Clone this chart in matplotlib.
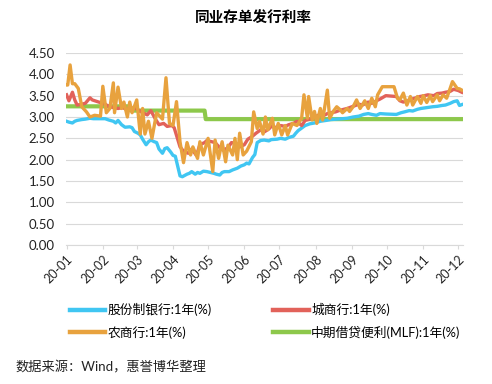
import matplotlib
matplotlib.use("Agg")
import matplotlib.pyplot as plt
import matplotlib.dates as mdates
import pandas as pd
from matplotlib.lines import Line2D

plt.rcParams['font.family'] = ['Lato', 'Noto Sans CJK SC', 'DejaVu Sans']

title = "同业存单发行利率"
source = "数据来源：Wind，惠誉博华整理"
labels = ["股份制银行:1年(%)", "城商行:1年(%)", "农商行:1年(%)", "中期借贷便利(MLF):1年(%)"]
month_ticks = ["20-01", "20-02", "20-03", "20-04", "20-05", "20-06",
               "20-07", "20-08", "20-09", "20-10", "20-11", "20-12"]
yticks = [0, 0.5, 1.0, 1.5, 2.0, 2.5, 3.0, 3.5, 4.0, 4.5]

blue_dates = ["01-01","01-03","01-06","01-08","01-10","01-14","01-17","01-21","01-24","02-03","02-06",
              "02-10","02-12","02-14","02-17","02-20","02-24","02-26","02-28","03-02","03-04","03-06",
              "03-09","03-11","03-13","03-16","03-18","03-20","03-23","03-25","03-27","03-30","04-01",
              "04-03","04-07","04-09","04-13","04-15","04-17","04-20","04-22","04-24","04-27","04-30",
              "05-06","05-08","05-11","05-13","05-15","05-19","05-22","05-26","05-29","06-01","06-03",
              "06-05","06-08","06-10","06-12","06-15","06-18","06-22","06-24","06-29","07-02","07-06",
              "07-09","07-13","07-15","07-17","07-20","07-23","07-27","07-31","08-05","08-10","08-14",
              "08-19","08-24","08-28","09-02","09-07","09-11","09-15","09-18","09-22","09-25","09-30",
              "10-09","10-13","10-16","10-20","10-23","10-27","10-30","11-04","11-09","11-13","11-17",
              "11-20","11-24","11-27","11-30","12-02","12-04"]
blue_vals = [2.90,2.88,2.86,2.90,2.92,2.94,2.95,2.97,2.96,2.96,2.93,
             2.90,2.86,2.92,2.82,2.76,2.77,2.75,2.66,2.62,2.58,2.48,
             2.35,2.42,2.46,2.42,2.40,2.25,2.15,2.26,2.28,2.18,2.10,
             2.08,1.62,1.60,1.66,1.68,1.72,1.66,1.70,1.68,1.73,1.72,
             1.68,1.66,1.64,1.70,1.72,1.72,1.76,1.80,1.85,1.88,1.92,
             1.90,2.05,2.12,2.40,2.45,2.46,2.44,2.47,2.48,2.50,2.48,
             2.52,2.55,2.62,2.68,2.74,2.80,2.84,2.86,2.90,2.92,2.94,
             2.95,2.96,2.97,3.00,3.02,3.06,3.08,3.06,3.04,3.08,3.07,
             3.06,3.10,3.12,3.15,3.14,3.18,3.20,3.22,3.24,3.25,3.27,
             3.28,3.32,3.36,3.38,3.27,3.29]

red_dates = ["01-01","01-03","01-06","01-08","01-10","01-14","01-17","01-21","01-23","02-03","02-06",
             "02-10","02-14","02-18","02-21","02-25","02-28","03-03","03-06","03-10","03-13","03-17",
             "03-20","03-24","03-27","03-31","04-02","04-07","04-10","04-14","04-17","04-21","04-24",
             "04-28","04-30","05-07","05-11","05-14","05-18","05-21","05-25","05-28","06-01","06-04",
             "06-08","06-11","06-15","06-18","06-22","06-24","06-29","07-02","07-06","07-09","07-13",
             "07-16","07-20","07-23","07-27","07-31","08-04","08-07","08-11","08-14","08-18","08-21",
             "08-25","08-28","09-02","09-07","09-10","09-15","09-18","09-22","09-25","09-30","10-09",
             "10-12","10-15","10-19","10-22","10-26","10-29","11-02","11-05","11-10","11-13","11-17",
             "11-20","11-24","11-27","12-01","12-04"]
red_vals = [3.52,3.38,3.58,3.40,3.28,3.30,3.32,3.45,3.40,3.30,3.25,
            3.22,3.20,3.22,3.18,3.20,3.22,3.15,3.10,3.05,3.15,2.95,
            2.82,2.85,2.78,2.80,2.75,2.30,2.20,2.15,2.25,2.10,2.35,
            2.40,2.45,2.40,2.28,2.22,2.28,2.40,2.38,2.30,2.35,2.48,
            2.55,2.62,2.70,2.65,2.72,2.78,2.75,2.80,2.78,2.82,2.85,
            2.90,2.80,2.92,2.95,3.00,3.05,3.02,3.08,3.10,3.12,3.15,
            3.18,3.20,3.25,3.30,3.28,3.35,3.32,3.38,3.42,3.50,3.48,
            3.38,3.35,3.38,3.42,3.45,3.48,3.50,3.52,3.50,3.55,3.56,
            3.58,3.60,3.65,3.62,3.58]

orange_dates = ["01-01","01-02","01-04","01-06","01-08","01-11","01-14","01-18","01-21","01-25","01-30",
                "02-01","02-04","02-07","02-10","02-11","02-14","02-17","02-19","02-22","02-24","02-26",
                "03-01","03-04","03-06","03-08","03-11","03-14","03-18","03-23","03-26","03-29","04-01",
                "04-04","04-07","04-10","04-13","04-16","04-18","04-22","04-24","04-27","05-01","05-05",
                "05-07","05-10","05-13","05-16","05-18","05-22","05-24","05-26","05-28","05-31","06-03",
                "06-07","06-09","06-12","06-14","06-17","06-19","06-21","06-25","06-27","06-30","07-03",
                "07-06","07-08","07-12","07-16","07-20","07-22","07-25","07-26","07-29","07-31","08-02",
                "08-05","08-07","08-11","08-13","08-16","08-19","08-22","08-24","08-28","08-30","09-02",
                "09-05","09-08","09-12","09-15","09-18","09-21","09-23","09-27","10-07","10-10","10-12",
                "10-15","10-18","10-21","10-23","10-27","10-30","11-01","11-04","11-07","11-09","11-13",
                "11-15","11-18","11-21","11-24","11-26","11-30","12-02","12-04"]
orange_vals = [3.75,3.75,4.22,3.78,3.78,3.67,3.24,3.12,3.00,3.04,3.02,
               3.72,3.10,3.20,3.80,3.10,3.70,3.20,3.35,3.00,3.35,3.10,
               3.40,2.60,3.20,2.60,2.90,2.50,3.10,2.95,3.92,2.85,2.80,
               3.36,2.42,1.93,2.40,2.11,2.30,2.03,2.42,2.11,2.50,1.72,
               2.46,2.03,2.42,1.95,2.34,2.11,2.50,2.00,2.62,2.11,2.20,
               2.42,3.12,2.73,2.90,2.60,3.00,2.70,2.97,2.58,2.85,2.58,
               2.80,2.58,2.85,2.80,2.97,3.52,2.97,3.48,2.93,3.13,2.85,
               3.20,2.93,3.63,2.97,3.13,3.24,3.17,3.10,3.20,3.13,3.24,
               3.40,3.20,3.38,3.20,3.44,3.24,3.52,3.71,3.71,3.44,3.40,
               3.56,3.28,3.48,3.28,3.48,3.32,3.50,3.34,3.50,3.36,3.52,
               3.38,3.52,3.44,3.67,3.83,3.67,3.66,3.63]

green_dates = ["01-01","02-24","02-25","04-28","04-29","12-04"]
green_vals = [3.25,3.25,3.15,3.15,2.95,2.95]


def to_dt(ds):
    return pd.to_datetime(["2020-" + d for d in ds])


W, H = 492, 384
fig = plt.figure(figsize=(W / 100, H / 100), dpi=100)
ax = fig.add_axes([66 / W, 1 - 245 / H, (463 - 66) / W, (245 - 53) / H])

c_blue = '#40C6F2'
c_red = '#E2625A'
c_orange = '#E8A23E'
c_green = '#8DC84B'

l_green, = ax.plot(to_dt(green_dates), green_vals, color=c_green, lw=3.0, zorder=2)
l_blue, = ax.plot(to_dt(blue_dates), blue_vals, color=c_blue, lw=2.4, zorder=3)
l_red, = ax.plot(to_dt(red_dates), red_vals, color=c_red, lw=2.4, zorder=4)
l_orange, = ax.plot(to_dt(orange_dates), orange_vals, color=c_orange, lw=2.4, zorder=5)

ax.set_ylim(0, 4.5)
ax.set_yticks(yticks)
ax.set_yticklabels([f"{v:.2f}" for v in yticks])
ax.set_xlim(pd.Timestamp("2019-12-31 12:00"), pd.Timestamp("2020-12-05"))
mt = pd.date_range("2020-01-01", periods=12, freq="MS")
ax.set_xticks(mt)
ax.set_xticklabels(month_ticks, rotation=45, ha='right', rotation_mode='anchor')

ax.grid(axis='y', color='#d9d9d9', lw=0.8)
ax.set_axisbelow(True)
for s in ['top', 'right', 'left']:
    ax.spines[s].set_visible(False)
ax.spines['bottom'].set_color('#d9d9d9')
ax.tick_params(axis='y', length=0, labelsize=9.5, pad=8, colors='#222222')
ax.tick_params(axis='x', length=3, color='#d9d9d9', labelsize=9, pad=3, labelcolor='#222222')

fig.text(0.515, 1 - 18 / H, title, ha='center', va='center', fontsize=10.5, fontweight='bold',
         family=['Noto Sans CJK SC'])

handles = [l_blue, l_orange, l_red, l_green]
labs = [labels[0], labels[2], labels[1], labels[3]]
hh = [Line2D([], [], color=h.get_color(), lw=3.2) for h in handles]
fig.legend(hh, labs, loc='upper left', bbox_to_anchor=(65 / W, 1 - 298 / H), ncol=2,
           frameon=False, handlelength=2.75, handletextpad=0.2, columnspacing=4.8,
           fontsize=9.2, labelspacing=0.75, borderaxespad=0)

fig.text(15 / W, 1 - 367 / H, source, ha='left', va='center', fontsize=9.5, color='#222222')

fig.savefig("out.png", dpi=100)
